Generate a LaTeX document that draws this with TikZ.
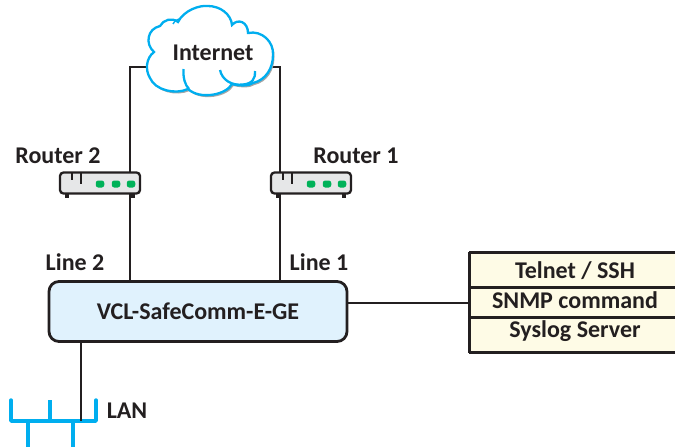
\documentclass[tikz,border=0pt]{standalone}
\usepackage{fontspec}
\setmainfont{Carlito}
\usepackage{xcolor}
\usetikzlibrary{arrows.meta}
\definecolor{lanblue}{HTML}{00AEEF}
\definecolor{boxblue}{HTML}{E0F2FD}
\definecolor{rowcream}{HTML}{FEFBE6}
\definecolor{routergray}{HTML}{E6E7E8}
\definecolor{ledgreen}{HTML}{00B259}
\definecolor{linedark}{HTML}{231F20}
\tikzset{
  wire/.style={linedark,line width=2.3pt},
  lanwire/.style={lanblue,line width=3.4pt},
  cloudline/.style={lanblue,line width=2.3pt},
  label/.style={font=\fontsize{24}{26}\selectfont\bfseries,text=linedark,inner sep=0pt},
  devicebox/.style={draw=linedark,line width=2.8pt,fill=boxblue,rounded corners=10pt,
    minimum width=298pt,minimum height=60pt},
  rowbox/.style={draw=linedark,line width=1.5pt,fill=rowcream,minimum width=210pt,
    font=\fontsize{24}{26}\selectfont\bfseries,text=linedark,inner sep=0pt},
  routerbox/.style={draw=linedark,line width=2.3pt,fill=routergray,rounded corners=3.5pt,
    minimum width=80pt,minimum height=21pt,inner sep=0pt},
  led/.style={fill=ledgreen,rounded corners=2.5pt,minimum width=8.5pt,minimum height=7pt,inner sep=0pt},
}
\def\cloudoutline{(154,52) .. controls (145,44) and (147,29) .. (160,26)
  .. controls (163,20) and (172,17) .. (178,22)
  .. controls (184,10) and (200,5) .. (208,6)
  .. controls (220,6) and (231,14) .. (232,25)
  .. controls (238,18) and (248,22) .. (248,33)
  .. controls (262,30) and (274,42) .. (273,55)
  .. controls (273,68) and (266,80) .. (253,83)
  .. controls (249,86) and (240,86) .. (232,84)
  .. controls (226,95) and (200,100) .. (188,89)
  .. controls (175,95) and (155,90) .. (150,78)
  .. controls (145,70) and (146,58) .. (154,52) -- cycle}

\begin{document}
\begin{tikzpicture}[x=1pt,y=-1pt]
  \useasboundingbox (0,0) rectangle (675,447);
  % cloud
  \coordinate (cloudL) at (150,67);
  \coordinate (cloudR) at (272,67);
  \coordinate (cornerL) at (130,67);
  \coordinate (cornerR) at (280,67);
  \node[devicebox] (vcl) at (198,311.5) {};
  \draw[wire] (vcl.north -| cornerL) -- (cornerL) -- (cloudL);
  \draw[wire] (vcl.north -| cornerR) -- (cornerR) -- (cloudR);
  \fill[black!35,shift={(1.5,2)}] \cloudoutline;
  \draw[cloudline,fill=white] \cloudoutline;
  \draw[cloudline] (183.5,69) .. controls (183,78) and (185,85) .. (189,89);
  \draw[cloudline] (220,70) .. controls (222,80) and (232,86) .. (243,84.5)
    .. controls (252,84) and (256,78) .. (255,71);
  \draw[lanblue,line width=1.4pt] (173,24) .. controls (174,21) and (176,20) .. (179,19);
  \node[label] (internet) at (213,53) {Internet};
  % routers
  \foreach \name/\cx in {rtwo/100,rone/311}{
    \draw[linedark,line width=3.5pt] (\cx-33,193) -- (\cx-33,198);
    \draw[linedark,line width=3.5pt] (\cx+33,193) -- (\cx+33,198);
    \node[routerbox] (\name) at (\cx,183) {};
    \draw[linedark,line width=2.2pt] (\cx-28,173) -- (\cx-28,180);
    \draw[linedark,line width=2.2pt] (\cx-19,173) -- (\cx-19,184);
    \node[led] (\name a) at (\cx,184) {};
    \node[led] (\name b) at (\cx+16,184) {};
    \node[led] (\name c) at (\cx+31,184) {};
  }
  \node[label] (rtwolabel) at (58,156) {Router 2};
  \node[label] (ronelabel) at (356,156) {Router 1};
  \node[label] (linetwo) at (75,262) {Line 2};
  \node[label] (lineone) at (319,262) {Line 1};
  % device and services
  \node[font=\fontsize{24}{26}\selectfont\bfseries,text=linedark] (vcltext) at (vcl) {VCL-SafeComm-E-GE};
  \node[rowbox,minimum height=34pt,text height=18pt,text depth=1pt] (telnet) at (575,270) {Telnet / SSH};
  \node[rowbox,minimum height=28.5pt,anchor=north,text height=16pt,text depth=4pt] (snmp) at (telnet.south) {SNMP command};
  \node[rowbox,minimum height=33.5pt,anchor=north,text height=12pt,text depth=8pt] (syslog) at (snmp.south) {Syslog Server};
  \draw[linedark,line width=2.8pt] (telnet.north west) -- (telnet.north east);
  \draw[linedark,line width=2.8pt] (syslog.south west) -- (syslog.south east);
  \draw[linedark,line width=2.8pt] (telnet.north west) -- (syslog.south west);
  \draw[wire] (vcl.east |- snmp.west) -- (snmp.west);
  % LAN
  \coordinate (lantap) at (81,421);
  \draw[lanwire,line cap=round,line join=round] (11,400) -- (11,421) -- (96,421) -- (96,400);
  \draw[lanwire] (50,400) -- (50,421);
  \draw[lanwire] (28,421) -- (28,447);
  \draw[lanwire] (73,421) -- (73,447);
  \draw[wire] (vcl.south -| lantap) -- (lantap);
  \node[label] (lan) at (127,411) {LAN};
\end{tikzpicture}
\end{document}
